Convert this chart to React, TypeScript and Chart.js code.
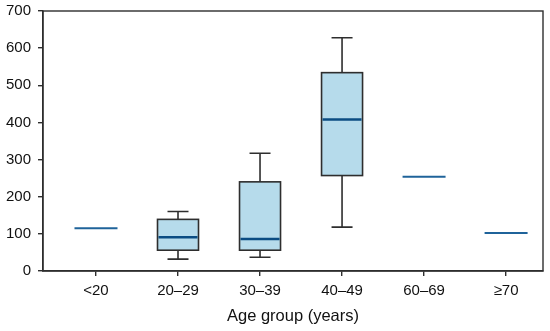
import React, { useEffect, useRef } from "react";
import { Chart, registerables } from "chart.js";

Chart.register(...registerables);

const categories = ["<20", "20–29", "30–39", "40–49", "60–69", "≥70"];
const whiskerLow: (number | null)[] = [null, 32, 37, 118, null, null];
const q1: (number | null)[] = [null, 56, 56, 257, null, null];
const median: number[] = [115, 91, 86, 408, 254, 102];
const q3: (number | null)[] = [null, 139, 240, 534, null, null];
const whiskerHigh: (number | null)[] = [null, 160, 317, 628, null, null];
const yTicks = [0, 100, 200, 300, 400, 500, 600, 700];

const AXIS_COLOR = "#2e2e2e";
const BOX_FILL = "#b6dbeb";
const MEDIAN_COLOR = "#0b4c82";
const LONE_MEDIAN_COLOR = "#1f639a";
const FONT = "'Liberation Sans', Arial, sans-serif";

const boxPlugin = {
  id: "boxPlugin",
  afterDatasetsDraw(chart: any) {
    const { ctx, chartArea } = chart;
    const xs = chart.scales.x;
    const ys = chart.scales.y;
    ctx.save();
    ctx.strokeStyle = AXIS_COLOR;
    ctx.lineWidth = 1.4;
    ctx.strokeRect(chartArea.left, chartArea.top, chartArea.right - chartArea.left, chartArea.bottom - chartArea.top);

    const boxHalf = 20.5;
    const capHalf = 10.5;
    const loneHalf = 21.5;
    categories.forEach((_, i) => {
      const x = xs.getPixelForValue(i);
      const m = ys.getPixelForValue(median[i]);
      if (q1[i] == null || q3[i] == null) {
        ctx.strokeStyle = LONE_MEDIAN_COLOR;
        ctx.lineWidth = 2;
        ctx.beginPath();
        ctx.moveTo(x - loneHalf, m);
        ctx.lineTo(x + loneHalf, m);
        ctx.stroke();
        return;
      }
      const yq1 = ys.getPixelForValue(q1[i] as number);
      const yq3 = ys.getPixelForValue(q3[i] as number);
      const ylo = ys.getPixelForValue(whiskerLow[i] as number);
      const yhi = ys.getPixelForValue(whiskerHigh[i] as number);
      ctx.strokeStyle = AXIS_COLOR;
      ctx.lineWidth = 1.6;
      ctx.beginPath();
      ctx.moveTo(x, yq1);
      ctx.lineTo(x, ylo);
      ctx.moveTo(x - capHalf, ylo);
      ctx.lineTo(x + capHalf, ylo);
      ctx.moveTo(x, yq3);
      ctx.lineTo(x, yhi);
      ctx.moveTo(x - capHalf, yhi);
      ctx.lineTo(x + capHalf, yhi);
      ctx.stroke();
      ctx.fillStyle = BOX_FILL;
      ctx.fillRect(x - boxHalf, yq3, boxHalf * 2, yq1 - yq3);
      ctx.strokeRect(x - boxHalf, yq3, boxHalf * 2, yq1 - yq3);
      ctx.strokeStyle = MEDIAN_COLOR;
      ctx.lineWidth = 2.5;
      ctx.beginPath();
      ctx.moveTo(x - boxHalf + 1, m);
      ctx.lineTo(x + boxHalf - 1, m);
      ctx.stroke();
    });
    ctx.restore();
  },
};

export default function App() {
  const ref = useRef<HTMLCanvasElement | null>(null);
  useEffect(() => {
    if (!ref.current) return;
    const chart = new Chart(ref.current, {
      type: "scatter",
      data: {
        datasets: [
          {
            data: median.map((v, i) => ({ x: i, y: v })),
            pointRadius: 0,
            showLine: false,
          },
        ],
      },
      options: {
        animation: false,
        responsive: true,
        maintainAspectRatio: false,
        layout: { padding: { top: 11, right: 7, left: 0, bottom: 0 } },
        plugins: { legend: { display: false }, tooltip: { enabled: false } },
        scales: {
          x: {
            type: "linear",
            min: -0.646,
            max: 5.45,
            afterFit: (s: any) => {
              s.height = 60;
              s.paddingLeft = 0;
              s.paddingRight = 0;
            },
            afterBuildTicks: (s: any) => {
              s.ticks = categories.map((_, i) => ({ value: i }));
            },
            ticks: {
              autoSkip: false,
              maxRotation: 0,
              padding: 6,
              color: "#111",
              font: { family: FONT, size: 15 },
              callback: (v: any) => categories[Math.round(Number(v))] ?? "",
            },
            grid: { drawOnChartArea: false, drawTicks: true, tickLength: 5, color: AXIS_COLOR, lineWidth: 1.4 },
            border: { display: true, color: AXIS_COLOR, width: 1.4 },
            title: {
              display: true,
              text: "Age group (years)",
              color: "#111",
              font: { family: FONT, size: 16.5 },
              padding: { top: 4, bottom: 5 },
            },
          },
          y: {
            min: 0,
            max: 700,
            afterFit: (s: any) => {
              s.width = 43;
              s.paddingTop = 0;
              s.paddingBottom = 0;
            },
            afterBuildTicks: (s: any) => {
              s.ticks = yTicks.map((v) => ({ value: v }));
            },
            ticks: {
              padding: 7,
              color: "#111",
              font: { family: FONT, size: 15 },
            },
            grid: { drawOnChartArea: false, drawTicks: true, tickLength: 5, color: AXIS_COLOR, lineWidth: 1.4 },
            border: { display: true, color: AXIS_COLOR, width: 1.4 },
          },
        },
      },
      plugins: [boxPlugin],
    });
    return () => chart.destroy();
  }, []);
  return (
    <div style={{ position: "fixed", left: 0, top: 0, width: 550, height: 331, background: "#fff" }}>
      <canvas ref={ref} />
    </div>
  );
}
